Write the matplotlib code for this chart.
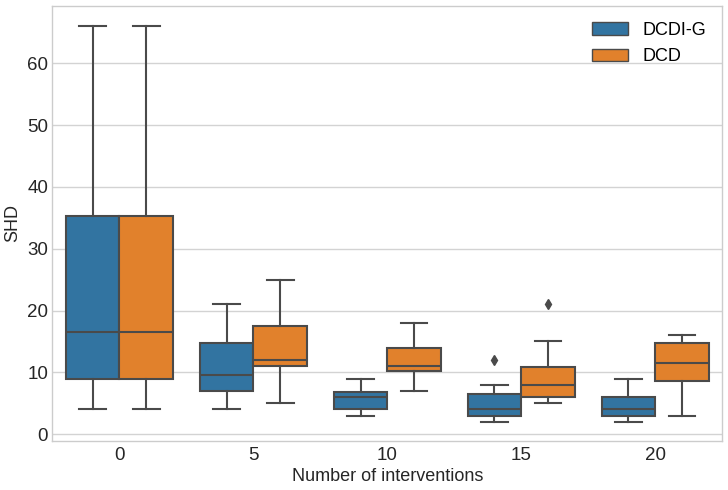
import matplotlib
matplotlib.use("Agg")
import matplotlib.pyplot as plt
from matplotlib.patches import Patch

categories = ["0", "5", "10", "15", "20"]
series_names = ["DCDI-G", "DCD"]

# five-number summaries: [whislo, q1, median, q3, whishi]
dcdi_g = [
    [4, 9, 16.5, 35.3, 66],
    [4, 7, 9.6, 14.75, 21],
    [3, 4, 6, 6.75, 9],
    [2, 3, 4, 6.5, 8],
    [2, 3, 4, 6, 9],
]
dcdi_g_fliers = [[], [], [], [12], []]

dcd = [
    [4, 9, 16.5, 35.3, 66],
    [5, 11, 12, 17.5, 25],
    [7, 10.25, 11, 14, 18],
    [5, 6, 8, 10.8, 15],
    [3, 8.6, 11.5, 14.75, 16],
]
dcd_fliers = [[], [], [], [21], []]

colors = ["#3274a1", "#e1812c"]
line_color = "#4a4a4a"

plt.rcParams["font.family"] = ["Liberation Sans", "DejaVu Sans"]

fig = plt.figure(figsize=(7.28, 4.90), dpi=100)
ax = fig.add_axes([0.072, 0.10, 0.920, 0.888])


def make_stats(vals, fl):
    out = []
    for v, f in zip(vals, fl):
        out.append(dict(whislo=v[0], q1=v[1], med=v[2], q3=v[3], whishi=v[4], fliers=f))
    return out


width = 0.4
for i, (vals, fl) in enumerate([(dcdi_g, dcdi_g_fliers), (dcd, dcd_fliers)]):
    offset = -0.2 + 0.4 * i
    positions = [k + offset for k in range(len(categories))]
    ax.bxp(
        make_stats(vals, fl),
        positions=positions,
        widths=width,
        patch_artist=True,
        showfliers=True,
        capwidths=width / 2,
        boxprops=dict(facecolor=colors[i], edgecolor=line_color, linewidth=1.5),
        medianprops=dict(color=line_color, linewidth=1.5),
        whiskerprops=dict(color=line_color, linewidth=1.5),
        capprops=dict(color=line_color, linewidth=1.5),
        flierprops=dict(marker="d", markerfacecolor=line_color, markeredgecolor=line_color, markersize=5),
        manage_ticks=False,
    )

ax.set_xticks(range(len(categories)))
ax.set_xticklabels(categories)
ax.set_xlim(-0.5, len(categories) - 0.5)
ax.set_ylim(-1.1, 69.3)
ax.set_yticks([0, 10, 20, 30, 40, 50, 60])

ax.set_facecolor("white")
ax.yaxis.grid(True, color="#d3d3d3", linewidth=1.0)
ax.xaxis.grid(False)
ax.set_axisbelow(True)
for s in ax.spines.values():
    s.set_color("#cccccc")
    s.set_linewidth(1.0)
ax.tick_params(axis="y", length=0, labelsize=13.5, colors="#262626", pad=3)
ax.tick_params(axis="x", length=0, labelsize=13.5, colors="#262626", pad=4.5)

ax.set_xlabel("Number of interventions", fontsize=13, color="#262626", labelpad=3)
ax.set_ylabel("SHD", fontsize=13, color="#262626", labelpad=4)

handles = [Patch(facecolor=colors[i], edgecolor=line_color, linewidth=1.0, label=series_names[i]) for i in range(2)]
ax.legend(handles=handles, loc="upper right", frameon=False, fontsize=13, handlelength=2.0, handleheight=0.7)

fig.savefig("out.png", dpi=100)
